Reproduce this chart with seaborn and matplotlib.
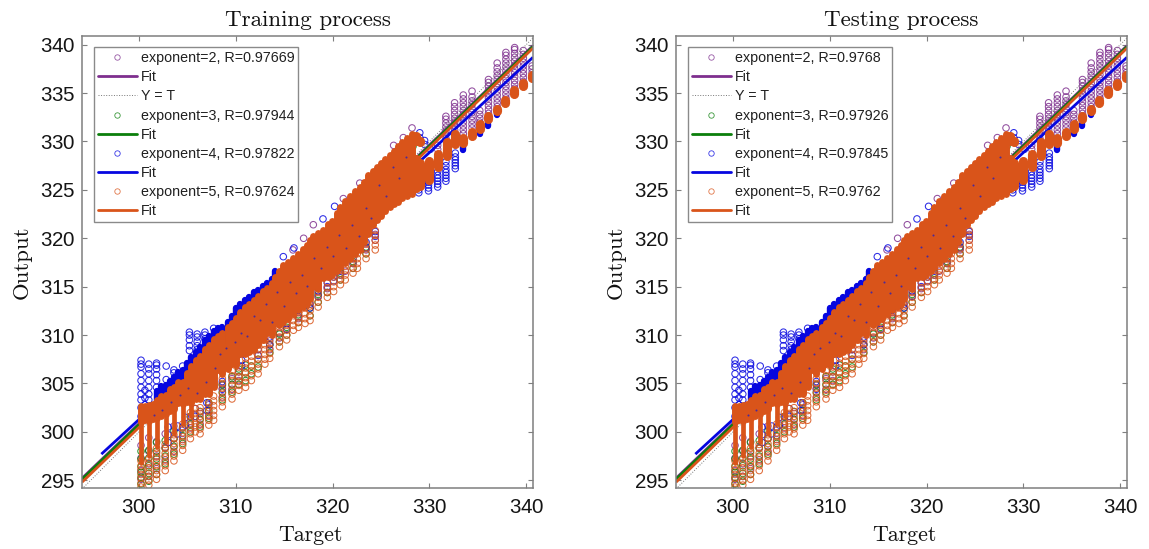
import matplotlib
matplotlib.use("Agg")
import matplotlib.pyplot as plt
from matplotlib.lines import Line2D
import pandas as pd
import seaborn as sns

# ---------- solid part of the cloud: target, upper and lower output
body_target = [300.2,300.65,301.0,301.45,301.9,302.3,302.75,303.2,303.6,304.0,304.5,305.0,305.4,305.9,306.3,306.8,307.2,307.7,
               308.2,308.6,309.2,309.6,310.0,310.45,310.9,311.4,311.9,312.3,312.8,313.2,313.7,314.05,314.5,314.9,315.4,315.9,
               316.4,316.9,317.3,317.7,318.0,318.5,319.0,319.5,319.9,320.4,320.8,321.3,321.8,322.3,322.8,323.2,323.7,324.2,
               324.6,325.0,325.4,325.9,326.3,326.8,327.2,327.7,328.2]
body_high = [302.7,302.7,302.8,302.9,303.3,303.7,303.8,304.4,304.6,305.2,305.2,306.1,306.8,307.4,307.8,308.6,309.0,309.6,
             309.9,310.2,310.8,311.2,311.8,312.4,312.9,313.2,313.6,314.0,314.6,314.9,315.4,316.0,316.6,317.2,317.6,318.0,
             318.4,318.9,319.3,319.8,320.2,320.5,320.9,321.5,321.8,322.6,323.2,323.9,324.4,324.9,325.3,325.8,326.5,327.0,
             327.4,327.8,328.2,328.6,329.0,329.5,329.9,330.4,330.8]
body_low = [301.0,301.2,301.1,301.3,301.4,301.6,301.8,302.2,302.4,303.0,302.9,303.1,303.0,303.4,303.4,303.9,303.9,304.6,
            306.4,306.0,306.5,307.0,306.9,308.0,308.0,308.3,308.5,309.0,309.5,310.2,310.0,311.2,311.0,311.4,311.7,312.2,
            312.6,312.9,313.2,313.7,315.0,314.8,315.9,316.0,316.2,316.6,317.0,317.4,317.9,318.4,318.8,319.6,320.4,321.4,
            321.9,322.3,322.8,323.2,323.5,323.8,324.2,324.4,324.6]

spike_target = [300.2,301.0,301.9,302.75,303.6,304.5,305.4]
spike_high = [302.0,302.0,302.6,303.0,303.4,304.0,304.5]
spike_low = [296.8,297.5,298.4,299.0,299.8,300.8,301.6]

tail_target = [328.6,328.6,329.0,329.0,329.5,329.92,330.85,331.78,332.68,333.5,334.36,335.2,336.1,337.0,337.84,338.77,339.67,340.6]
tail_high = [330.6,328.2,330.0,327.8,329.2,328.0,328.7,329.9,330.8,330.4,331.0,331.8,332.6,333.4,334.3,335.3,336.0,336.9]
tail_low = [330.0,325.2,329.9,325.4,329.2,326.0,327.4,328.5,329.7,329.8,330.6,331.3,332.3,333.1,334.0,334.9,335.7,336.6]

band_target = [301.8,302.3,302.75,303.2,303.6,304.0,304.5,305.0,305.4,305.9,306.3,306.8,307.2,307.7,308.2,308.6,309.2,309.6,
               310.0,310.45,310.9,311.4,311.9,312.3,312.8,313.2,313.7,314.05]
band_high = [304.2,304.7,304.8,305.3,305.7,306.2,306.4,307.1,307.7,308.3,308.8,309.5,309.9,310.4,310.7,310.8,311.4,312.0,
             312.8,313.2,313.6,313.9,314.4,314.7,315.1,315.4,315.8,316.6]

tailb_target = [333.5,335.2,336.1,337.0]
tailb_high = [329.4,330.9,331.8,332.8]
tailb_low = [329.1,330.8,331.6,332.7]

# ---------- open circles: (target, outputs)
exp2_columns = [
    (300.2,[295.1,296.0,297.3,298.6]),(301.0,[295.4,296.7,298.0,299.4]),(301.8,[296.2,297.5,299.0]),
    (302.7,[297.1,298.4,299.8]),(303.6,[298.0,299.3,300.6]),(304.5,[299.2,300.5]),(305.3,[300.4,301.5]),
    (306.3,[300.8,301.9]),(307.2,[301.7,302.8]),(308.6,[303.6,304.8]),(309.6,[304.4,305.5]),(310.3,[305.3,306.2]),
    (313.5,[308.5,309.4]),(314.5,[309.7,310.2]),(316.46,[311.7]),(319.45,[314.8]),(321.3,[316.6]),(323.45,[318.8]),(324.4,[319.8,320.4]),
    (315.9,[318.8]),(317.0,[320.0]),(318.0,[321.4]),(321.1,[324.1]),(322.8,[325.7]),(326.3,[329.6]),(327.3,[330.4]),(328.2,[331.4]),
    (330.85,[329.2,329.6]),(331.7,[330.3,330.7,331.1,331.5,331.9,332.3,332.6]),
    (332.6,[331.2,331.6,332.0,332.4,332.8,333.2,333.6,334.0]),
    (333.5,[330.8,331.2,331.6,332.0,332.4,332.8,333.2,333.6,334.0,334.4,334.8]),
    (334.4,[331.4,331.8,332.2,332.6,333.0,333.4,333.8,334.2,334.6,335.2]),
    (335.2,[332.0,332.4,332.8,333.2]),
    (336.1,[332.9,333.3,333.7,334.1,334.5,334.9,335.3,335.7,336.1,336.4]),
    (337.0,[333.6,334.0,334.4,334.8,335.2,335.6,336.0,336.4,336.8,337.2,337.6,338.1]),
    (337.9,[334.5,334.9,335.3,335.7,336.1,336.5,336.9,337.3,337.7,338.1,338.5,338.9,339.2]),
    (338.8,[335.5,335.9,336.3,336.7,337.1,337.5,337.9,338.3,338.7,339.1,339.5,339.7]),
    (339.7,[336.2,336.6,337.0,337.4,337.8,338.2,338.6,339.0,339.4]),
    (340.6,[337.1,337.5,337.8]),
]
exp3_columns = [
    (300.2,[294.6,295.3,295.8,296.4,297.2,298.0]),(301.0,[294.9,295.7,296.5,297.3,298.1]),(301.8,[295.6,296.4,297.2,298.0,298.9]),
    (302.7,[296.7,297.5,298.3,299.1]),(303.6,[297.7,298.5,299.3,300.1]),(304.5,[298.8,299.6,300.4]),
    (305.3,[300.0,300.8,301.6]),(306.3,[300.5,301.3,302.1]),(307.2,[301.4,302.2,303.0]),(308.6,[303.3,304.1,304.9]),
    (309.6,[304.1,304.9,305.7]),(310.3,[304.9,305.7,306.5]),(311.0,[305.3,306.1,306.9]),(311.6,[306.0,306.8]),
    (312.3,[306.7,307.5]),(313.5,[308.2,309.0]),(314.5,[309.3,310.1]),(315.25,[310.0,310.8]),(316.46,[311.3,312.1]),
    (317.66,[312.0,312.8]),(318.5,[313.4,314.2]),(319.45,[314.4]),(320.8,[315.7,316.4]),(322.1,[316.9,317.6]),(323.45,[318.4,319.1]),
    (328.3,[329.5,329.9]),(326.0,[325.6,326.1]),
]
exp4_columns = [
    (300.2,[301.6,302.5,303.3,303.9,304.6,305.3,306.0,306.7,307.0,307.4]),
    (301.0,[303.3,303.9,304.6,305.3,306.0,306.5,307.0]),
    (301.8,[304.6,305.3,305.9,306.5,306.9,307.1]),(302.8,[305.4,306.8]),(303.6,[306.4,306.1]),(304.5,[306.8]),
    (305.2,[308.4,308.9,309.5,310.0,310.3]),(306.0,[308.5,308.9,309.3,309.8,310.1]),(306.8,[309.6,310.0,310.3]),(307.7,[310.7]),
    (300.6,[302.8,303.5,304.3]),(304.8,[300.7,301.5]),
    (303.0,[298.9,299.7,300.5]),(304.0,[299.8,300.6]),(305.8,[301.6,302.4]),(307.0,[302.2,303.0]),
    (308.6,[304.4,305.2]),(310.6,[306.8,307.4]),(312.3,[307.9,308.5]),(313.5,[309.0,309.8]),(315.25,[310.6,311.2]),
    (316.46,[311.9,312.6]),(317.66,[312.8,313.2]),(318.5,[314.0,314.5]),(319.45,[315.0,315.4]),(320.1,[315.6,316.0]),
    (320.8,[316.2,316.6]),(322.1,[317.4,317.9]),(323.45,[319.0,319.6]),(324.4,[320.2,320.7]),
    (314.9,[318.1]),(316.0,[319.0]),(319.0,[322.0]),(320.2,[323.3]),(329.0,[330.4,330.9]),(329.5,[329.7,330.1]),(330.1,[329.2]),
    (328.9,[324.7,325.0,325.3,325.6]),(329.9,[324.9,325.2,325.5,325.8,326.0]),
    (330.85,[325.3,325.6,325.9,326.2,326.5,326.9]),(331.7,[325.9,326.2,326.5,326.8,327.1,327.5,327.9]),
    (332.67,[327.2,327.5,327.8,328.1,328.4,328.8]),
]
exp5_columns = [
    (300.2,[294.3,294.7,295.2,295.6,296.1,296.5,297.0]),
    (301.0,[294.5,295.0,295.4,295.9,296.3,296.8,297.2]),
    (301.8,[295.1,295.6,296.0,296.5,296.9,297.4,297.8,298.3]),
    (302.7,[296.0,296.5,296.9,297.4,297.8,298.3,298.7]),
    (303.6,[297.0,297.5,297.9,298.4,298.8,299.3,299.7]),
    (304.5,[298.1,298.6,299.0,299.5,299.9,300.4,300.8]),
    (305.3,[299.3,299.8,300.2,300.7,301.1,301.6,302.0]),
    (305.8,[300.0,300.5,300.9,301.4,301.9,302.4]),
    (306.3,[299.8,300.3,300.7,301.2,301.6,302.1,302.5]),
    (307.2,[300.7,301.2,301.6,302.1,302.5,303.0]),
    (307.7,[301.2,301.7,302.2,302.7,303.2,303.7]),
    (308.6,[302.6,303.1,303.5,304.0,304.5,305.0,305.5]),
    (309.6,[303.4,303.9,304.3,304.8,305.3,305.8,306.3]),
    (310.3,[304.3,304.8,305.2,305.7,306.2,306.7]),
    (311.0,[304.6,305.1,305.6,306.1,306.6,307.1,307.6]),
    (311.6,[305.3,305.8,306.3,306.8,307.3,307.8]),
    (312.3,[306.0,306.5,307.0,307.5,308.0,308.5]),
    (313.0,[307.0,307.5,308.0,308.5,309.0,309.5]),
    (313.5,[307.6,308.1,308.6,309.1,309.6]),
    (314.5,[308.8,309.3,309.8,310.3,310.8]),
    (315.25,[309.5,310.0,310.5,311.0,311.3]),
    (315.95,[310.5,311.0,311.5,312.0]),
    (316.46,[310.8,311.3,311.8,312.3]),
    (317.15,[311.2,311.7,312.2,312.8]),
    (317.66,[311.5,312.0,312.5,313.0,313.4]),
    (318.5,[312.9,313.4,313.9,314.4]),
    (319.45,[313.9,314.4,314.9,315.4]),
    (320.1,[314.5,315.0,315.5,316.0]),
    (320.8,[315.2,315.7,316.2,316.7]),
    (321.3,[315.7,316.2,316.7,317.1]),
    (322.1,[316.4,316.9,317.4,317.9]),
    (322.55,[316.9,317.4,317.9,318.4]),
    (323.45,[317.9,318.4,318.9,319.4]),
    (324.4,[318.8,319.3,319.8,320.3,320.8]),
]

# ---------- small dark specks inside the solid part
speck_target = [301.5,302.4,303.3,304.2,305.1,306.0,306.9,307.8,308.4,309.0,309.9,310.5,311.2,311.9,312.5,313.1,313.7,314.3,
                315.0,315.6,316.2,316.8,317.4,318.1,318.8,319.4,320.0,320.7,321.4,322.0,322.7,323.4,324.0,324.8,325.5,326.2,326.9,327.6]
speck_output = [301.7,302.3,303.1,303.8,304.5,304.0,305.2,306.6,308.0,308.7,309.3,310.2,309.9,312.0,311.6,313.2,311.4,314.4,
                313.0,315.5,314.3,316.2,315.1,318.0,316.9,319.1,318.2,320.3,319.0,321.4,320.2,323.1,322.1,325.5,324.4,327.4,326.2,328.4]

# ---------- fit lines and reference line
range_target = [294.1, 340.7]
fit2_output = [295.2, 339.9]
fit3_output = [295.1, 339.8]
fit5_output = [294.8, 339.65]
fit4_target = [296.1, 340.7]
fit4_output = [297.7, 338.7]
ideal_output = [294.1, 340.7]

# ---------- text
train_labels = ["exponent=2, R=0.97669", "exponent=3, R=0.97944", "exponent=4, R=0.97822", "exponent=5, R=0.97624"]
test_labels = ["exponent=2, R=0.9768", "exponent=3, R=0.97926", "exponent=4, R=0.97845", "exponent=5, R=0.9762"]
x_ticks = [300, 310, 320, 330, 340]
y_ticks = [295, 300, 305, 310, 315, 320, 325, 330, 335, 340]

PURPLE, GREEN, BLUE, ORANGE = "#7E2F8E", "#0B7F0B", "#0606E0", "#D9541A"
GRAY = "#7F7F7F"
SERIF = "cmr10"

sns.set_theme(style="white")
plt.rcParams["font.family"] = ["Liberation Sans", "DejaVu Sans"]
plt.rcParams["axes.formatter.use_mathtext"] = True


def table(columns):
    rows = [(t, v) for t, values in columns for v in values]
    return pd.DataFrame(rows, columns=["target", "output"])


def circles(ax, columns, color):
    d = table(columns)
    sns.scatterplot(data=d, x="target", y="output", ax=ax, s=22, marker="o", facecolor="none",
                    edgecolor=color, linewidth=0.75, alpha=0.85, legend=False)


def line(ax, x, y, color, lw, ls="-"):
    sns.lineplot(x=x, y=y, ax=ax, color=color, linewidth=lw, linestyle=ls, legend=False,
                 errorbar=None, estimator=None, sort=False, solid_capstyle="butt")


def panel(ax, title, labels):
    circles(ax, exp2_columns, PURPLE)
    line(ax, range_target, fit2_output, PURPLE, 2.0)
    line(ax, range_target, ideal_output, "#777777", 0.7, ":")
    circles(ax, exp3_columns, GREEN)
    line(ax, range_target, fit3_output, GREEN, 2.0)
    circles(ax, exp4_columns, BLUE)
    ax.vlines(tailb_target, tailb_low, tailb_high, color=BLUE, lw=4.6, capstyle="round", zorder=2.3)
    line(ax, fit4_target, fit4_output, BLUE, 2.0)
    ax.vlines(band_target, [h - 1.6 for h in band_high], band_high, color=BLUE, lw=4.6, capstyle="round", zorder=2.4)
    circles(ax, exp5_columns, ORANGE)
    line(ax, range_target, fit5_output, ORANGE, 2.0)
    ax.vlines(body_target, body_low, body_high, color=ORANGE, lw=5.0, capstyle="round", zorder=2.5)
    ax.vlines(spike_target, spike_low, spike_high, color=ORANGE, lw=3.4, capstyle="round", zorder=2.5)
    ax.vlines(tail_target, tail_low, tail_high, color=ORANGE, lw=6.6, capstyle="round", zorder=2.5)
    sns.scatterplot(x=speck_target, y=speck_output, ax=ax, s=2.2, color="#4A2A9A", linewidth=0, legend=False, zorder=2.6)

    ax.set_xlim(294.1, 340.7)
    ax.set_ylim(294.2, 340.9)
    ax.set_xticks(x_ticks)
    ax.set_yticks(y_ticks)
    ax.tick_params(direction="in", length=3.6, width=0.8, color=GRAY, labelsize=14.8, labelcolor="#151515",
                   top=True, right=True, bottom=True, left=True, pad=5)
    ax.tick_params(axis="x", pad=7.5)
    ax.ticklabel_format(useOffset=False, style="plain")
    for spine in ax.spines.values():
        spine.set_color(GRAY)
        spine.set_linewidth(1.1)
        spine.set_zorder(5)
    ax.set_title(title, family=SERIF, fontsize=16.6, color="#111111", pad=7.2)
    ax.set_xlabel("Target", family=SERIF, fontsize=15.8, color="#111111", labelpad=6, x=0.507)
    ax.set_ylabel("Output", family=SERIF, fontsize=16.4, color="#111111", labelpad=6)

    def mk(c):
        return Line2D([], [], ls="", marker="o", ms=3.9, mfc="none", mec=c, mew=0.6, alpha=0.8)

    def ln(c):
        return Line2D([], [], color=c, lw=2.0)

    handles = [mk(PURPLE), ln(PURPLE), Line2D([], [], color="#777777", lw=0.7, ls=":"),
               mk(GREEN), ln(GREEN), mk(BLUE), ln(BLUE), mk(ORANGE), ln(ORANGE)]
    texts = [labels[0], "Fit", "Y = T", labels[1], "Fit", labels[2], "Fit", labels[3], "Fit"]
    leg = ax.legend(handles, texts, loc="upper left", bbox_to_anchor=(0.0266, 0.9746), borderaxespad=0,
                    fontsize=10.3, labelspacing=0.36, handlelength=2.75, handletextpad=0.3, borderpad=0.25,
                    frameon=True, fancybox=False, framealpha=1, edgecolor="#8A8A8A", facecolor="white",
                    labelcolor="#202020")
    leg.get_frame().set_linewidth(1.0)
    leg.set_zorder(6)


fig = plt.figure(figsize=(11.49, 5.49), dpi=100, facecolor="white")
ax1 = fig.add_axes([82 / 1149, 1 - 488 / 549, 451 / 1149, 452 / 549])
ax2 = fig.add_axes([676 / 1149, 1 - 488 / 549, 451 / 1149, 452 / 549])
panel(ax1, "Training process", train_labels)
panel(ax2, "Testing process", test_labels)
fig.savefig("out.png", dpi=100)
